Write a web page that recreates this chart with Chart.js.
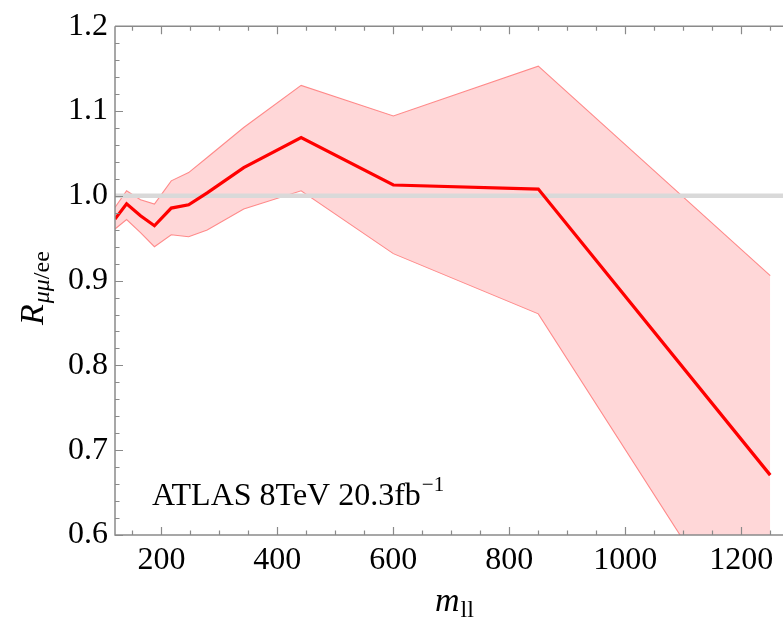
<!DOCTYPE html>
<html><head><meta charset="utf-8">
<script src="https://cdn.jsdelivr.net/npm/chart.js@4"></script>
<style>html,body{margin:0;padding:0;background:#fff;overflow:hidden} #wrap{width:783px;height:619px;position:relative} canvas{display:block}</style>
</head><body>
<div id="wrap"><canvas id="c" width="783" height="619"></canvas></div>
<script>
// ---- data ----
const massPoints     = [120, 140, 164, 188, 217, 247, 279, 342, 441, 600, 850, 1250];
const ratioCentral   = [0.9726, 0.9906, 0.9765, 0.9647, 0.9855, 0.9894, 1.0035, 1.0333, 1.0686, 1.0127, 1.0079, 0.6706];
const ratioUpper     = [0.9862, 1.0059, 0.9953, 0.9902, 1.0176, 1.0274, 1.0452, 1.0805, 1.1302, 1.0941, 1.1529, 0.9059];
const ratioLower     = [0.9608, 0.9720, 0.9565, 0.9400, 0.9541, 0.9518, 0.9596, 0.9844, 1.0059, 0.9318, 0.8608, 0.4340];
const unityLine      = [1.0, 1.0];
const xRange         = [120, 1272];
const yRange         = [0.6, 1.2];
const xTickLabels    = [200, 400, 600, 800, 1000, 1200];
const yTickLabels    = [0.6, 0.7, 0.8, 0.9, 1.0, 1.1, 1.2];
const xMinorStep     = 50;
const yMinorStep     = 0.02;

const pts = (ys) => massPoints.map((x, i) => ({x, y: ys[i]}));
const SERIF = "'Liberation Serif', 'Times New Roman', Times, serif";
const FRAME = '#8a8a8a';

const xTickVals = []; for (let v = 150; v <= 1250; v += xMinorStep) xTickVals.push(v);
const yTickVals = []; for (let k = 30; k <= 60; k++) yTickVals.push(+(k * yMinorStep).toFixed(2));

const decor = {
  id: 'decor',
  afterDraw(chart) {
    const {ctx, chartArea: a, scales: {x, y}} = chart;
    ctx.save();
    ctx.strokeStyle = FRAME; ctx.lineWidth = 1.5;
    ctx.beginPath();
    ctx.moveTo(a.left, a.top); ctx.lineTo(a.right + 2, a.top);
    ctx.moveTo(a.left, a.top); ctx.lineTo(a.left, a.bottom);
    ctx.lineTo(a.right + 2, a.bottom);
    ctx.stroke();
    ctx.lineWidth = 1.2;
    ctx.beginPath();
    xTickVals.forEach(v => {
      const px = Math.round(x.getPixelForValue(v)) + 0.5;
      const len = xTickLabels.includes(v) ? 8 : 4.5;
      ctx.moveTo(px, a.bottom); ctx.lineTo(px, a.bottom - len);
      ctx.moveTo(px, a.top); ctx.lineTo(px, a.top + len);
    });
    yTickVals.forEach(v => {
      const py = Math.round(y.getPixelForValue(v)) + 0.5;
      const major = yTickLabels.some(t => Math.abs(t - v) < 1e-6);
      const len = major ? 8 : 4.5;
      ctx.moveTo(a.left, py); ctx.lineTo(a.left + len, py);
    });
    ctx.stroke();

    ctx.fillStyle = '#000';
    ctx.textBaseline = 'alphabetic';
    ctx.textAlign = 'left';
    ctx.font = `32px ${SERIF}`;
    const main = 'ATLAS 8TeV 20.3fb';
    ctx.fillText(main, 152, 505);
    const w = ctx.measureText(main).width;
    ctx.font = `21px ${SERIF}`;
    ctx.fillText('\u22121', 152 + w + 1, 491);

    ctx.font = `italic 34px ${SERIF}`;
    ctx.fillText('m', 435, 611);
    const mw = ctx.measureText('m').width;
    ctx.font = `24px ${SERIF}`;
    ctx.fillText('ll', 435 + mw + 1, 617);

    ctx.translate(43, 281);
    ctx.rotate(-Math.PI / 2);
    let cx = -44;
    ctx.font = `italic 34px ${SERIF}`;
    ctx.fillText('R', cx, 0);
    cx += ctx.measureText('R').width + 1;
    ctx.font = `italic 24px ${SERIF}`;
    ctx.fillText('\u03bc\u03bc', cx, 6);
    cx += ctx.measureText('\u03bc\u03bc').width;
    ctx.font = `24px ${SERIF}`;
    ctx.fillText('/ee', cx, 6);
    ctx.restore();
  }
};

function build() {
  new Chart(document.getElementById('c'), {
    type: 'scatter',
    data: {
      datasets: [
        { label: 'lower', data: pts(ratioLower), showLine: true, borderColor: '#ff8a8a', borderWidth: 1.1,
          pointRadius: 0, fill: false, tension: 0, order: 4 },
        { label: 'upper', data: pts(ratioUpper), showLine: true, borderColor: '#ff8a8a', borderWidth: 1.1,
          pointRadius: 0, fill: {target: 0}, backgroundColor: 'rgb(255,215,216)', tension: 0, order: 3 },
        { label: 'unity', data: xRange.map((x, i) => ({x, y: unityLine[i]})), showLine: true,
          borderColor: '#d9d9d9', borderWidth: 4.5, pointRadius: 0, fill: false, order: 2 },
        { label: 'R', data: pts(ratioCentral), showLine: true, borderColor: '#ff0000', borderWidth: 3.2,
          pointRadius: 0, fill: false, tension: 0, order: 1, borderJoinStyle: 'miter' }
      ]
    },
    options: {
      responsive: false,
      animation: false,
      devicePixelRatio: 1,
      layout: { padding: { top: 25, right: 0, left: 0, bottom: 0 } },
      plugins: { legend: { display: false }, tooltip: { enabled: false }, filler: { drawTime: 'beforeDatasetsDraw' } },
      scales: {
        x: {
          type: 'linear', min: xRange[0], max: xRange[1],
          afterBuildTicks: s => { s.ticks = xTickLabels.map(v => ({value: v})); },
          afterFit: s => { s.height = 619 - 535; },
          ticks: { font: { family: SERIF, size: 32 }, color: '#000', padding: 6, maxRotation: 0, autoSkip: false,
                   callback: v => String(v) },
          grid: { display: false, drawTicks: false },
          border: { display: false }
        },
        y: {
          type: 'linear', min: yRange[0], max: yRange[1],
          afterBuildTicks: s => { s.ticks = yTickLabels.map(v => ({value: v})); },
          afterFit: s => { s.width = 115; },
          ticks: { font: { family: SERIF, size: 32 }, color: '#000', padding: 7,
                   callback: v => Number(v).toFixed(1) },
          grid: { display: false, drawTicks: false },
          border: { display: false }
        }
      }
    },
    plugins: [decor]
  });
}

let built = false;
const go = () => { if (!built) { built = true; build(); } };
if (document.fonts && document.fonts.load) {
  Promise.all([
    document.fonts.load("32px 'Liberation Serif'"),
    document.fonts.load("italic 32px 'Liberation Serif'")
  ]).then(go, go);
  setTimeout(go, 500);
} else { go(); }
</script>
</body></html>
